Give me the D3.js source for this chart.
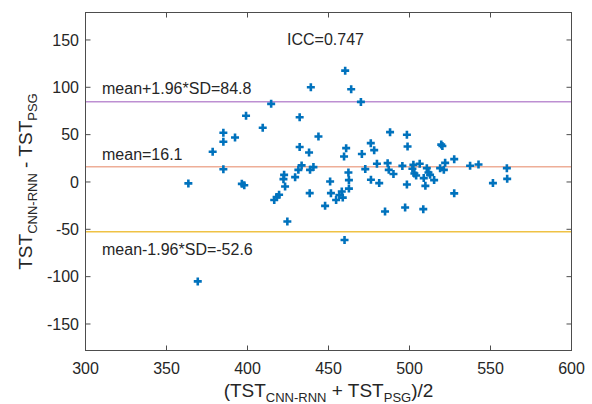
<!DOCTYPE html>
<html>
<head>
<meta charset="utf-8">
<script src="https://cdn.jsdelivr.net/npm/d3@7"></script>
<style>
  body { margin: 0; background: #fff; }
  text { font-family: Arial, "Liberation Sans", sans-serif; fill: #262626; }
</style>
</head>
<body>
<script>
// mean of the two measures (x) and their difference (y)
const meanTST = [363.5, 369.3, 378.5, 385.1, 385.1, 385.1, 392.3, 396.5, 398, 399.1,
  409.4, 414.6, 416.5, 419.5, 418, 422.6, 422.2, 423.2, 424.6, 429.4,
  431.4, 432.2, 432.2, 433.4, 438, 438.6, 440.7, 438.4, 439.1, 443.8,
  447.9, 451, 451.5, 458.2, 456.7, 458.8, 454.7, 460.3, 464, 470,
  460.9, 459.6, 462.3, 462.6, 462.6, 459.9, 470.6, 476.1, 478.2, 472.7,
  479.9, 476.2, 481.3, 486.5, 487.2, 490.1, 488, 484.9, 495.6, 498.4,
  498.8, 498.4, 497.3, 502.4, 506.3, 501.8, 503, 504.1, 508.8, 509.8,
  510.7, 511.7, 512.7, 508.5, 515.2, 518.9, 521.2, 522, 519.6, 520.3,
  527.6, 527.6, 537.4, 542.6, 551.5, 560.1, 560.3];
const diffTST = [-1.5, -105, 32, 52, 42.5, 13.5, 47, -2, -3.5, 70,
  57.3, 82.5, -19, -13.5, -16, 7.5, 3, -4.8, -41.7, 5.1,
  12.8, 68.4, 37, 17.5, 31.1, 12.8, 15.7, -11.8, 100.1, 48,
  -25.2, 0.5, -11.8, -10.1, -13.8, -16.5, -19, 117.6, 98, 84.6,
  35.7, 26.9, 10, 2, -7, -61.3, 29.5, 41, 33.6, 13.6,
  19.2, 2.3, -1.2, 19.9, 12.8, 8.5, 52.6, -31.2, 17, 49.8,
  37.4, -2.6, -27, 18.1, 19.2, 14, 9, 6.8, 4.1, -4.1,
  14.6, 10, 7.5, -28.7, 2, 14.6, 12.8, 20.2, 39.5, 38,
  24.1, -12, 17.2, 18.5, -1.2, 14.6, 3.3];

const meanDiff = 16.1;
const upperLoA = 84.8;
const lowerLoA = -52.6;
const icc = 0.747;

const xTicks = [300, 350, 400, 450, 500, 550, 600];
const yTicks = [-150, -100, -50, 0, 50, 100, 150];

const W = 592, H = 404;
const L = 85.5, R = 571.5, T = 12.5, B = 350.5;

const svg = d3.select('body').append('svg')
  .attr('width', W)
  .attr('height', H);

const x = d3.scaleLinear().domain([300, 600]).range([L, R]);
const y = d3.scaleLinear().domain([-178, 179]).range([B, T]);

// limits of agreement lines
const lines = [
  {v: upperLoA, c: '#bd8fd2'},
  {v: meanDiff, c: '#eeae98'},
  {v: lowerLoA, c: '#efc244'}
];
svg.selectAll('line.loa')
  .data(lines).enter()
  .append('line')
  .attr('class', 'loa')
  .attr('x1', L).attr('x2', R)
  .attr('y1', d => y(d.v)).attr('y2', d => y(d.v))
  .attr('stroke', d => d.c)
  .attr('stroke-width', 1.5);

// points as plus markers
const s = 4;
svg.selectAll('path.pt')
  .data(d3.zip(meanTST, diffTST)).enter()
  .append('path')
  .attr('class', 'pt')
  .attr('d', d => {
    const px = x(d[0]), py = y(d[1]);
    return `M${px - s},${py}H${px + s}M${px},${py - s}V${py + s}`;
  })
  .attr('stroke', '#0072BD')
  .attr('stroke-width', 2.6)
  .attr('fill', 'none');

// axes box with inward ticks
const tl = 5;
const box = svg.append('g')
  .attr('stroke', '#4d4d4d')
  .attr('stroke-width', 1)
  .attr('fill', 'none');
box.append('rect')
  .attr('x', L).attr('y', T)
  .attr('width', R - L).attr('height', B - T);
xTicks.forEach(t => {
  box.append('line').attr('x1', x(t)).attr('x2', x(t)).attr('y1', B).attr('y2', B - tl);
  box.append('line').attr('x1', x(t)).attr('x2', x(t)).attr('y1', T).attr('y2', T + tl);
});
yTicks.forEach(t => {
  box.append('line').attr('x1', L).attr('x2', L + tl).attr('y1', y(t)).attr('y2', y(t));
  box.append('line').attr('x1', R).attr('x2', R - tl).attr('y1', y(t)).attr('y2', y(t));
});

svg.selectAll('text.xt')
  .data(xTicks).enter()
  .append('text')
  .attr('x', d => x(d))
  .attr('y', B + 23.5)
  .attr('text-anchor', 'middle')
  .style('font-size', '16px')
  .text(d => d);

svg.selectAll('text.yt')
  .data(yTicks).enter()
  .append('text')
  .attr('x', L - 6.5)
  .attr('y', d => y(d))
  .attr('dy', '0.36em')
  .attr('text-anchor', 'end')
  .style('font-size', '16px')
  .text(d => d);

// annotations
const ann = [
  {t: 'mean+1.96*SD=' + upperLoA, yy: y(upperLoA) - 8},
  {t: 'mean=' + meanDiff, yy: y(meanDiff) - 7},
  {t: 'mean-1.96*SD=' + lowerLoA, yy: y(lowerLoA) + 23}
];
svg.selectAll('text.ann')
  .data(ann).enter()
  .append('text')
  .attr('x', 102)
  .attr('y', d => d.yy)
  .style('font-size', '16px')
  .text(d => d.t);

svg.append('text')
  .attr('x', 287)
  .attr('y', 45)
  .style('font-size', '16px')
  .text('ICC=' + icc);

// axis labels with subscripts
const xl = svg.append('text')
  .attr('x', (L + R) / 2)
  .attr('y', 397)
  .attr('text-anchor', 'middle')
  .style('font-size', '19px');
xl.append('tspan').text('(TST');
xl.append('tspan').attr('dy', 5).style('font-size', '13px').text('CNN-RNN');
xl.append('tspan').attr('dy', -5).text(' + TST');
xl.append('tspan').attr('dy', 5).style('font-size', '13px').text('PSG');
xl.append('tspan').attr('dy', -5).text(')/2');

const yl = svg.append('text')
  .attr('transform', `translate(32,${(T + B) / 2}) rotate(-90)`)
  .attr('text-anchor', 'middle')
  .style('font-size', '19px');
yl.append('tspan').text('TST');
yl.append('tspan').attr('dy', 5).style('font-size', '13px').text('CNN-RNN');
yl.append('tspan').attr('dy', -5).text(' - TST');
yl.append('tspan').attr('dy', 5).style('font-size', '13px').text('PSG');
</script>
</body>
</html>
